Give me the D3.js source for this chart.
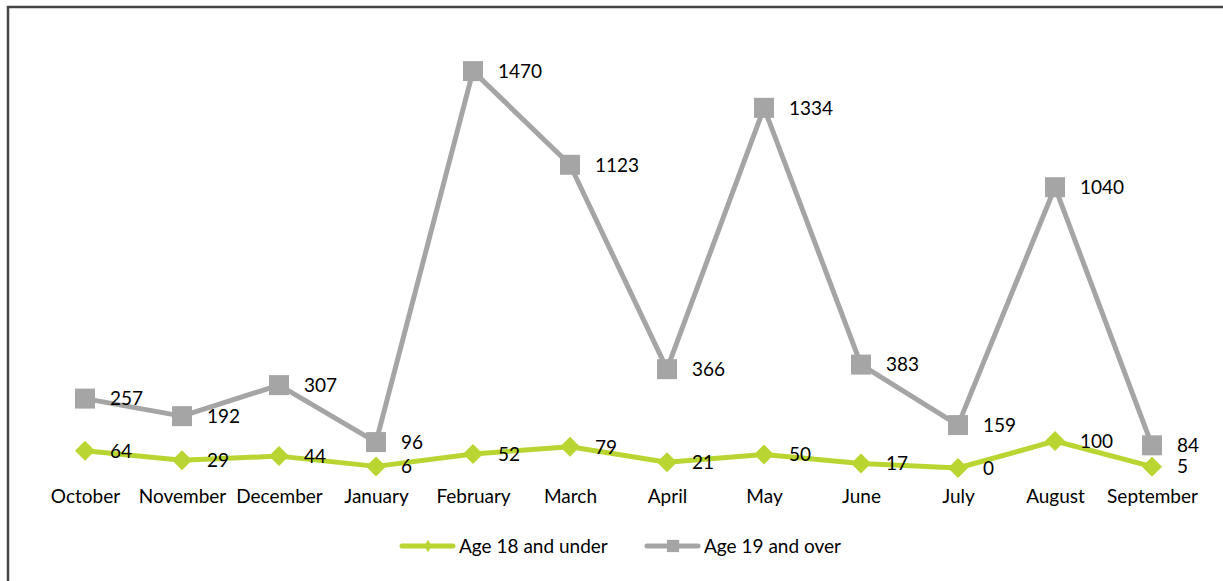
<!DOCTYPE html>
<html>
<head>
<meta charset="utf-8">
<script src="https://cdn.jsdelivr.net/npm/d3@7"></script>
<style>
  html, body { margin: 0; padding: 0; background: #fff; }
  svg { display: block; font-family: Lato, "Open Sans", sans-serif; }
</style>
</head>
<body>
<svg id="chart" width="1223" height="581"></svg>
<script>
// Monthly counts by age group
const months = ["October", "November", "December", "January", "February", "March",
                "April", "May", "June", "July", "August", "September"];
const under18 = [64, 29, 44, 6, 52, 79, 21, 50, 17, 0, 100, 5];
const over19 = [257, 192, 307, 96, 1470, 1123, 366, 1334, 383, 159, 1040, 84];
const seriesNames = ["Age 18 and under", "Age 19 and over"];

const GREEN = "#b9d532";
const GRAY = "#a5a5a5";
const FONT = 19;

const svg = d3.select("#chart");

// frame
svg.append("path")
  .attr("d", "M8,581 L8,7 L1223,7")
  .attr("fill", "none")
  .attr("stroke", "#444")
  .attr("stroke-width", 2.5);

const x = d3.scalePoint().domain(months).range([85, 1152]);
const y = d3.scaleLinear().domain([0, 1600]).range([468, 36]);

// category axis (labels only)
const axis = svg.append("g")
  .attr("transform", "translate(0,482)")
  .call(d3.axisBottom(x).tickSize(0).tickPadding(0));
axis.select(".domain").remove();
axis.selectAll("text")
  .attr("y", 21)
  .attr("dy", 0)
  .attr("font-size", FONT)
  .attr("font-family", "Lato, 'Open Sans', sans-serif")
  .attr("fill", "#000");

const series = [
  { name: seriesNames[0], values: under18, color: GREEN, kind: "diamond" },
  { name: seriesNames[1], values: over19, color: GRAY, kind: "square" }
];

const line = d3.line()
  .x((d, i) => x(months[i]))
  .y(d => y(d));

const squareSym = size => d3.symbol().type(d3.symbolSquare).size(size);

// draw gray first, green on top
[series[1], series[0]].forEach(s => {
  const g = svg.append("g");
  g.append("path")
    .datum(s.values)
    .attr("d", line)
    .attr("fill", "none")
    .attr("stroke", s.color)
    .attr("stroke-width", 5)
    .attr("stroke-linejoin", "round");

  const isDiamond = s.kind === "diamond";
  g.selectAll("path.marker")
    .data(s.values)
    .join("path")
    .attr("class", "marker")
    .attr("d", squareSym(isDiamond ? 200 : 400))
    .attr("transform", (d, i) =>
      `translate(${x(months[i])},${y(d)})` + (isDiamond ? " rotate(45)" : ""))
    .attr("fill", s.color);
});

// value labels, right of each point
series.forEach(s => {
  svg.append("g")
    .selectAll("text")
    .data(s.values)
    .join("text")
    .attr("x", (d, i) => x(months[i]) + 25)
    .attr("y", d => y(d))
    .attr("dy", "0.36em")
    .attr("font-size", FONT)
    .attr("fill", "#000")
    .text(d => d);
});

// legend
const legendItems = [
  { s: series[0], x0: 400 },
  { s: series[1], x0: 645 }
];
legendItems.forEach(({ s, x0 }) => {
  const g = svg.append("g").attr("transform", `translate(${x0},546)`);
  g.append("line")
    .attr("x1", 2).attr("x2", 53)
    .attr("stroke", s.color)
    .attr("stroke-width", 5)
    .attr("stroke-linecap", "round");
  const sym = s.kind === "square"
    ? squareSym(150)
    : d3.symbol().type(d3.symbolDiamond).size(45);
  g.append("path")
    .attr("d", sym)
    .attr("transform", "translate(28,0)")
    .attr("fill", s.color);
  g.append("text")
    .attr("x", 59)
    .attr("y", 0)
    .attr("dy", "0.36em")
    .attr("font-size", FONT)
    .attr("fill", "#000")
    .text(s.name);
});
</script>
</body>
</html>
